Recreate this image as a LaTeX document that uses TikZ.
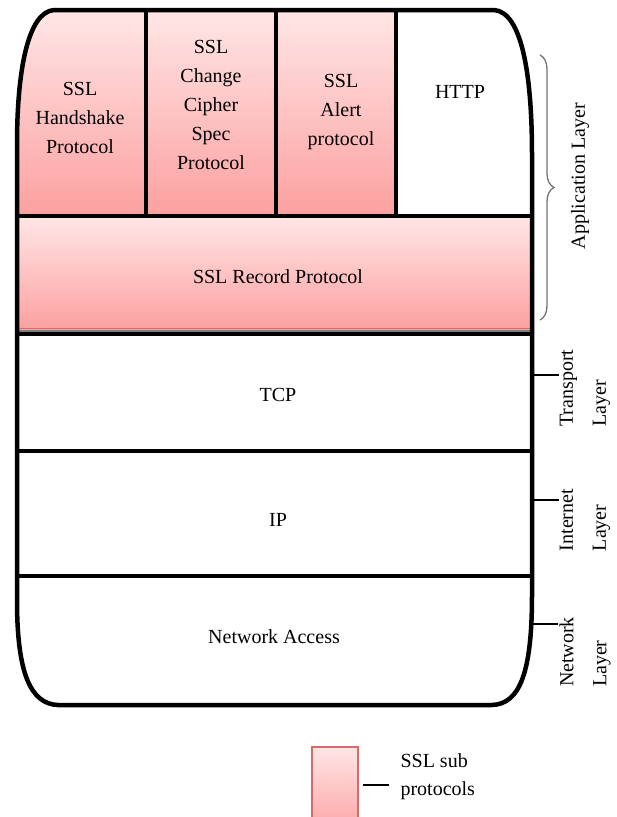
\documentclass[tikz,border=0pt]{standalone}
\usepackage{fontspec}
\setmainfont{Liberation Serif}
\usetikzlibrary{positioning,decorations.pathreplacing}
\definecolor{pinktop}{RGB}{255,230,230}
\definecolor{pinkbot}{RGB}{252,160,160}
\definecolor{pinkedge}{RGB}{222,104,104}
\definecolor{recline}{RGB}{214,112,112}
\definecolor{shadowgray}{RGB}{118,128,128}

\begin{document}
\begin{tikzpicture}[x=1pt, y=-1pt,
  lbl/.style={font=\fontsize{20}{29}\selectfont, align=center},
  side/.style={font=\fontsize{20}{33}\selectfont, align=left, rotate=90, inner sep=1pt},
  sub/.style={top color=pinktop, bottom color=pinkbot},
  rule/.style={line width=4pt},
  tick/.style={line width=1.1pt},
  brc/.style={decorate, decoration={brace, amplitude=14pt}, line width=1.3pt, black!55},
  outl/.style={insert path={(54,10) -- (494,10) .. controls (522,12) and (532,75) .. (532,155)
    -- (532,595) .. controls (532,672) and (520,704) .. (492,705) -- (58,705)
    .. controls (30,704) and (17,672) .. (17,600) -- (17,145)
    .. controls (17,70) and (28,12) .. (54,10) -- cycle}}
]
  \useasboundingbox (0,0) rectangle (617,817);

  % pink cells, cut to the rounded stack
  \begin{scope}
    \clip[outl];
    \path[sub] (17,10) rectangle (146,216);
    \path[sub] (146,10) rectangle (276,216);
    \path[sub] (276,10) rectangle (396,216);
    \path[sub] (17,216) rectangle (532,330);
  \end{scope}
  \draw[recline, line width=1pt] (17,328.5) -- (532,328.5);
  \draw[shadowgray, line width=1.6pt] (17,331) -- (532,331);

  % layer rules
  \draw[rule] (146,10) -- (146,216);
  \draw[rule] (276,10) -- (276,216);
  \draw[rule] (396,10) -- (396,216);
  \draw[rule] (17,216) -- (532,216);
  \draw[rule] (17,334) -- (532,334);
  \draw[rule] (17,451) -- (532,451);
  \draw[rule] (17,576) -- (532,576);
  \draw[line width=4.5pt, line join=round][outl];

  % protocol names
  \node[lbl] (hs) at (80,118) {SSL\\Handshake\\Protocol};
  \node[lbl] (ccs) at (211,105) {SSL\\Change\\Cipher\\Spec\\Protocol};
  \node[lbl] (alert) at (341,112) {SSL\\Alert\\protocol};
  \node[lbl] (http) at (460,92) {HTTP};
  \node[lbl] (rec) at (278,277) {SSL Record Protocol};
  \node[lbl] (tcp) at (278,395) {TCP};
  \node[lbl] (ip) at (278,520) {IP};
  \node[lbl] (net) at (274,637) {Network Access};

  % TCP/IP layers
  \draw[brc] (540,55) -- (540,320);
  \node[side] (app) at (580,176) {Application Layer};
  \coordinate (tcpE) at (532,375);
  \coordinate (ipE) at (532,500);
  \coordinate (netE) at (532,624);
  \node[side] (trl) at (585,388) {Transport\\Layer};
  \node[side] (inl) at (585,520) {Internet\\Layer};
  \node[side] (nwl) at (585,652) {Network\\Layer};
  \draw[tick] (tcpE) -- (tcpE -| trl.north);
  \draw[tick] (ipE) -- (ipE -| inl.north);
  \draw[tick] (netE) -- (netE -| nwl.north);

  % legend
  \begin{scope}
    \clip (0,0) rectangle (617,817);
    \node[sub, draw=pinkedge, line width=1.3pt, minimum width=46pt, minimum height=90pt,
      inner sep=0pt] (lgbox) at (335,792) {};
  \end{scope}
  \node[lbl, align=left, anchor=west, font=\fontsize{20}{28}\selectfont] (lgtxt) at (397,777) {SSL sub\\protocols};
  \coordinate (lgA) at (363,785);
  \coordinate (lgB) at (389,785);
  \draw[line width=1.3pt] (lgA) -- (lgB);
\end{tikzpicture}
\end{document}
